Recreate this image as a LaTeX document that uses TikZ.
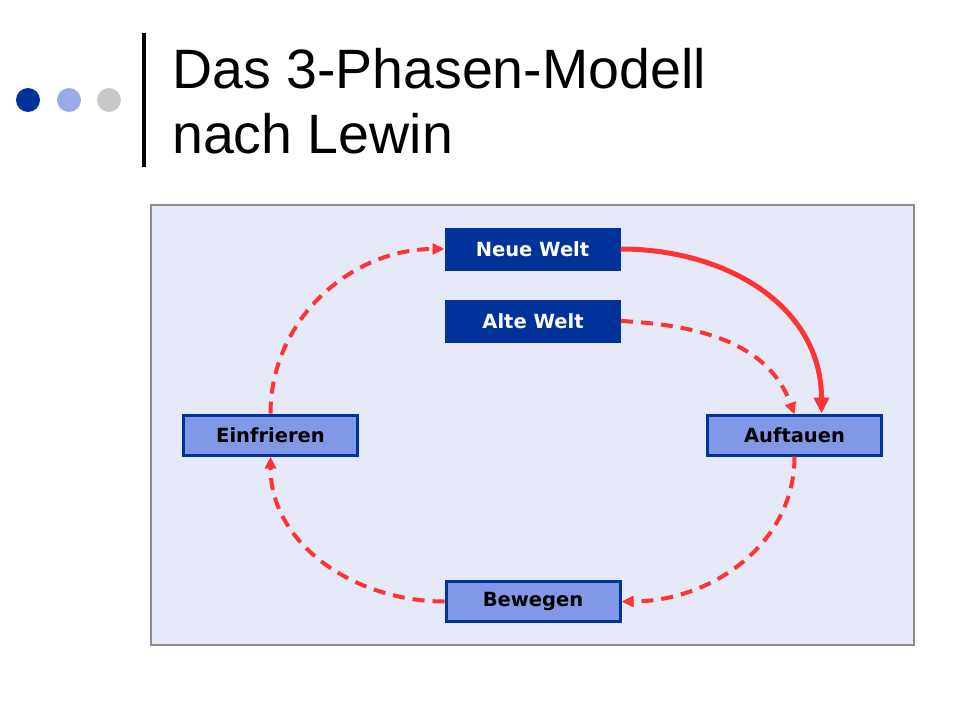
\documentclass[tikz,border=0pt]{standalone}
\usepackage{fontspec}
\setmainfont{Liberation Sans}
\newfontfamily\boxfont{DejaVu Sans}
\usetikzlibrary{arrows.meta}
\definecolor{dkblue}{HTML}{003399}
\definecolor{ltblue}{HTML}{8098E6}
\definecolor{panel}{HTML}{E6EAF8}
\definecolor{arrred}{HTML}{FF3333}
\definecolor{dotlt}{HTML}{99AAE6}
\definecolor{dotgray}{HTML}{C8C8C8}
\tikzset{
  darkbox/.style={draw=dkblue, fill=dkblue, line width=1pt, minimum width=175pt, minimum height=42pt,
    inner sep=0pt, text=white, font=\boxfont\bfseries\fontsize{19.5}{22}\selectfont},
  lightbox/.style={draw=dkblue, fill=ltblue, line width=3pt, minimum width=174pt, minimum height=40pt,
    inner sep=0pt, text=black, font=\boxfont\bfseries\fontsize{19.5}{22}\selectfont},
  dashconn/.style={draw=arrred, line width=4pt, dash pattern=on 12pt off 8pt,
    -{Triangle[length=12pt,width=11pt]}},
  solidconn/.style={draw=arrred, line width=5pt, -{Triangle[length=16pt,width=15pt]}},
  titletext/.style={anchor=base west, inner sep=0pt, font=\fontsize{55.5}{60}\selectfont}
}
\begin{document}
\begin{tikzpicture}[x=1pt,y=-1pt]
\useasboundingbox (0,0) rectangle (960,720);
\fill[white] (0,0) rectangle (960,720);
% header
\fill[dkblue] (28,100) circle (12);
\fill[dotlt] (69,100) circle (12);
\fill[dotgray] (109,100) circle (12);
\draw[line width=4pt] (144,33) -- (144,167);
\node[titletext] (t1) at (172,88) {Das 3-Phasen-Modell};
\node[titletext] (t2) at (172,153) {nach Lewin};
% panel
\draw[fill=panel, draw=gray!90, line width=1.5pt] (151,205) rectangle (914,645);
% boxes
\node[darkbox] (neu) at (532.5,249) {Neue Welt};
\node[darkbox] (alt) at (533,321) {Alte Welt};
\node[lightbox] (ein) at (270.5,435) {Einfrieren};
\node[lightbox] (auf) at (794.5,435) {Auftauen};
\node[lightbox] (bew) at (533,601.5) {Bewegen};
\coordinate (aufA) at ([xshift=27pt]auf.north);
\coordinate (aufB) at ([yshift=-1pt]auf.north);
% connectors
\draw[dashconn] (ein.north) to[out=90,in=180] (neu.west);
\draw[solidconn] (neu.east) to[out=0,in=90,looseness=1.05] (aufA);
\draw[dashconn] (alt.east) to[out=-3,in=110] (aufB);
\draw[dashconn] (auf.south) to[out=-90,in=0] (bew.east);
\draw[dashconn] (bew.west) to[out=180,in=-90] (ein.south);
\end{tikzpicture}
\end{document}
